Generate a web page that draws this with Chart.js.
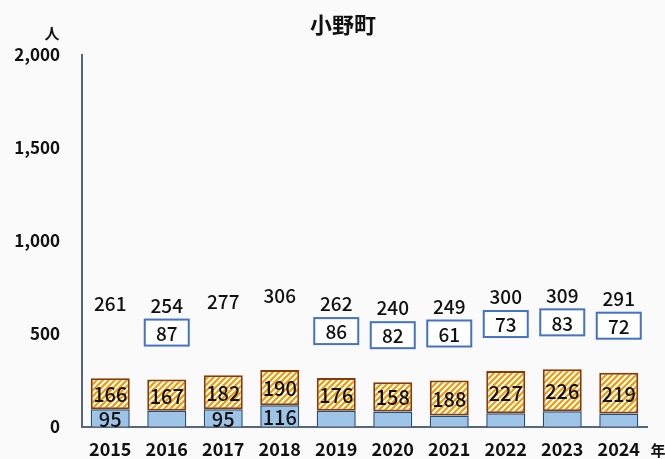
<!DOCTYPE html>
<html>
<head>
<meta charset="utf-8">
<script src="https://cdn.jsdelivr.net/npm/chart.js@4/dist/chart.umd.min.js"></script>
<style>
  html, body { margin: 0; padding: 0; background: #fafafa; }
  #wrap { width: 665px; height: 459px; }
</style>
</head>
<body>
<div id="wrap"><canvas id="chart" width="665" height="459"></canvas></div>
<script>
const years = ['2015', '2016', '2017', '2018', '2019', '2020', '2021', '2022', '2023', '2024'];
const lowerValues = [95, 87, 95, 116, 86, 82, 61, 73, 83, 72];
const upperValues = [166, 167, 182, 190, 176, 158, 188, 227, 226, 219];
const totals = [261, 254, 277, 306, 262, 240, 249, 300, 309, 291];

const FONT = '"Noto Sans CJK JP", "Noto Sans", sans-serif';

// orange / white diagonal hatch
function makeHatch() {
  const size = 6;
  const c = document.createElement('canvas');
  c.width = size;
  c.height = size;
  const g = c.getContext('2d');
  g.fillStyle = '#f39a00';
  g.fillRect(0, 0, size, size);
  g.strokeStyle = '#ffffff';
  g.lineWidth = 2;
  g.beginPath();
  g.moveTo(-1, size + 1); g.lineTo(size + 1, -1);
  g.moveTo(-1, 1); g.lineTo(1, -1);
  g.moveTo(size - 1, size + 1); g.lineTo(size + 1, size - 1);
  g.stroke();
  return document.getElementById('chart').getContext('2d').createPattern(c, 'repeat');
}

const labelPlugin = {
  id: 'labels',
  afterDatasetsDraw(chart) {
    const ctx = chart.ctx;
    const lower = chart.getDatasetMeta(0).data;
    const upper = chart.getDatasetMeta(1).data;
    ctx.save();
    ctx.fillStyle = '#111';
    ctx.textAlign = 'center';
    ctx.textBaseline = 'middle';

    upper.forEach((bar, i) => {
      const x = bar.x;
      // value inside upper segment
      ctx.fillStyle = '#111';
      ctx.font = '500 20px ' + FONT;
      ctx.fillText(upperValues[i], x, (bar.y + bar.base) / 2 + 1);
      // total above
      ctx.font = '500 19px ' + FONT;
      ctx.fillText(totals[i], x, bar.y - 74);

      const lb = lower[i];
      if (lowerValues[i] >= 90) {
        ctx.font = '500 20px ' + FONT;
        ctx.fillText(lowerValues[i], x, (lb.y + lb.base) / 2 + 1);
      } else {
        const bw = 44, bh = 26;
        const cy = bar.y - 47;
        ctx.fillStyle = '#ffffff';
        ctx.fillRect(x - bw / 2, cy - bh / 2, bw, bh);
        ctx.strokeStyle = '#4472c4';
        ctx.lineWidth = 2;
        ctx.strokeRect(x - bw / 2, cy - bh / 2, bw, bh);
        ctx.fillStyle = '#111';
        ctx.font = '500 19px ' + FONT;
        ctx.fillText(lowerValues[i], x, cy + 1);
      }
    });

    // title and unit labels
    ctx.font = 'bold 22px ' + FONT;
    ctx.fillText('小野町', 343, 25);
    ctx.font = 'bold 15px ' + FONT;
    ctx.fillText('人', 52, 33);
    ctx.fillText('年', 658, 450);
    ctx.restore();
  }
};

const bgPlugin = {
  id: 'bg',
  beforeDraw(chart) {
    const ctx = chart.ctx;
    ctx.save();
    ctx.fillStyle = '#fafafa';
    ctx.fillRect(0, 0, chart.width, chart.height);
    ctx.restore();
  }
};

new Chart(document.getElementById('chart'), {
  type: 'bar',
  data: {
    labels: years,
    datasets: [
      {
        label: 'lower',
        data: lowerValues,
        backgroundColor: '#9dc3e6',
        borderColor: '#1f4e79',
        borderWidth: 1.5,
        borderSkipped: 'bottom'
      },
      {
        label: 'upper',
        data: upperValues,
        backgroundColor: makeHatch(),
        borderColor: '#843c0c',
        borderWidth: 2,
        borderSkipped: false
      }
    ]
  },
  options: {
    responsive: false,
    animation: false,
    layout: { padding: { top: 55, right: 18, left: 0, bottom: 0 } },
    plugins: { legend: { display: false }, tooltip: { enabled: false }, title: { display: false } },
    datasets: { bar: { categoryPercentage: 1, barPercentage: 0.69 } },
    scales: {
      x: {
        stacked: true,
        grid: { display: false, drawTicks: false },
        border: { display: true, color: '#56667d', width: 2 },
        ticks: { color: '#111', padding: 12, font: { family: FONT, size: 18, weight: 'bold' } },
        afterFit(scale) { scale.height = 32; }
      },
      y: {
        stacked: true,
        min: 0,
        max: 2000,
        grid: { display: false, drawTicks: false },
        border: { display: true, color: '#56667d', width: 2 },
        ticks: {
          stepSize: 500,
          color: '#111',
          padding: 22,
          font: { family: FONT, size: 17, weight: 'bold' },
          callback: v => v.toLocaleString('en-US')
        },
        afterFit(scale) { scale.width = 82; }
      }
    }
  },
  plugins: [bgPlugin, labelPlugin]
});
</script>
</body>
</html>
